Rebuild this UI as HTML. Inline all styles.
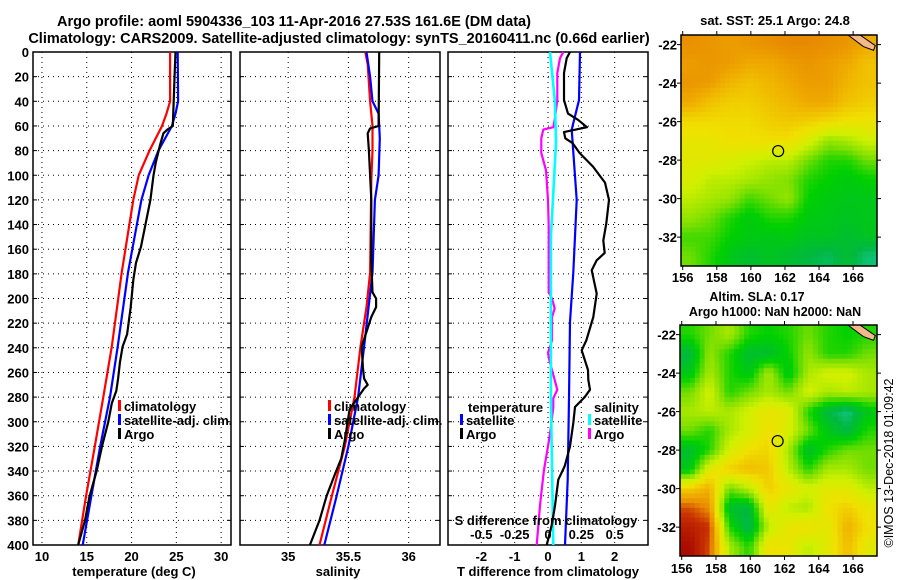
<!DOCTYPE html>
<html><head><meta charset="utf-8"><style>
body{margin:0;background:#fff;}
svg{display:block;font-family:"Liberation Sans",Arial,sans-serif;}
.b{font-weight:bold;font-size:13px;fill:#000;}
.h{font-weight:bold;font-size:14.5px;fill:#000;}
.t{font-weight:bold;font-size:12.5px;fill:#000;}
.g{stroke:#000;stroke-width:1;stroke-dasharray:1,4;fill:none;}
</style></head><body>
<svg id="c" width="900" height="580" viewBox="0 0 900 580" xmlns="http://www.w3.org/2000/svg">
<text class="h" x="294" y="26" text-anchor="middle">Argo profile: aoml 5904336_103 11-Apr-2016 27.53S 161.6E (DM data)</text>
<text class="h" x="339" y="43" text-anchor="middle">Climatology: CARS2009. Satellite-adjusted climatology: synTS_20160411.nc (0.66d earlier)</text>
<text class="b" x="775" y="25" text-anchor="middle">sat. SST: 25.1 Argo: 24.8</text>
<text class="t" x="757" y="301" text-anchor="middle">Altim. SLA: 0.17</text>
<text class="t" x="775" y="316" text-anchor="middle">Argo h1000: NaN h2000: NaN</text>
<text x="893" y="463" font-size="12.5" text-anchor="middle" transform="rotate(-90 893 463)">©IMOS 13-Dec-2018 01:09:42</text>
</svg>
<script>
// ---------- data ----------
const depthTicks=[0,20,40,60,80,100,120,140,160,180,200,220,240,260,280,300,320,340,360,380,400];
const tTicks=[10,15,20,25,30];
const sTicks=[35,35.5,36];
const dTicks=[-2,-1,0,1,2];
const sdTickLabels=["-0.5","-0.25","0","0.25","0.5"];
const sdTickValues=[-0.5,-0.25,0,0.25,0.5];
// temperature profiles (depth, value)
const tClimD=[0,40,50,60,80,100,120,179,239,280,320,361,400];
const tClimV=[24.3,24.3,23.9,23.4,22.0,20.8,20.2,18.9,17.8,16.85,15.9,14.9,14.05];
const tSatD=[0,40,50,60,80,100,120,179,239,280,320,361,400];
const tSatV=[25.15,25.2,24.9,24.5,23.0,21.9,21.1,19.6,18.45,17.6,16.5,15.5,14.55];
const tArgoD=[0,10,60,63,66,75,90,100,120,158,171,185,207,229,239,252,265,275,285,300,320,340,361,380,400];
const tArgoV=[24.9,24.85,24.6,24.0,23.55,23.2,22.7,22.45,22.1,21.06,20.5,20.2,19.9,19.5,19.0,18.7,18.5,18.3,17.8,17.4,16.7,16.1,15.3,14.8,14.05];
// salinity profiles
const sClimD=[0,10,40,60,80,104,179,207,239,280,320,361,400];
const sClimV=[35.64,35.66,35.68,35.70,35.70,35.69,35.68,35.65,35.60,35.55,35.47,35.36,35.26];
const sSatD=[0,20,40,50,70,100,120,179,239,280,320,361,400];
const sSatV=[35.65,35.68,35.70,35.75,35.76,35.75,35.72,35.70,35.63,35.58,35.50,35.40,35.30];
const sArgoD=[0,60,62,66,80,100,120,170,195,200,207,215,239,256,265,270,273,280,290,315,330,342,360,380,400];
const sArgoV=[35.755,35.75,35.68,35.66,35.67,35.68,35.69,35.69,35.70,35.73,35.73,35.69,35.61,35.62,35.63,35.66,35.63,35.58,35.51,35.47,35.44,35.39,35.32,35.26,35.18];
// differences from climatology
const dTSatD=[0,39,63,120,179,219,281,347,400];
const dTSatV=[0.96,0.93,0.71,0.86,0.76,0.66,0.63,0.59,0.51];
const dTArgoD=[0,5,17,39,50,55,61,65,70,74,82,93,106,120,139,153,163,169,177,196,215,234,242,258,266,274,280,288,301,320,336,347,368,384,400];
const dTArgoV=[0.66,0.56,0.48,0.48,0.6,0.9,1.17,0.48,0.52,0.74,0.95,1.35,1.71,1.83,1.75,1.66,1.7,1.46,1.31,1.46,1.36,1.15,1.01,1.2,1.21,1.26,1.1,0.81,0.76,0.66,0.5,0.31,0.21,0.11,-0.04];
const dSSatD=[0,40,74,150,280,400];
const dSSatV=[0.015,0.052,0.06,0.022,0.022,0.04];
const dSArgoD=[0,5,17,39,55,61,63,70,82,96,120,141,195,200,208,215,234,244,250,258,274,281,288,306,320,339,358,368,400];
const dSArgoV=[0.115,0.09,0.07,0.07,0.05,0.04,-0.035,-0.05,-0.05,-0.015,0,0.005,0.005,0.03,0.05,0.03,0.03,0,0.01,0.03,0.07,0.04,0.04,0.02,0.0,-0.03,-0.05,-0.06,-0.085];
// map grids (rows north->south, cols west->east), normalized colour index
const sstGrid=[
[0.85,0.84,0.83,0.84,0.85,0.86,0.86,0.85,0.84,0.81],
[0.83,0.84,0.83,0.81,0.81,0.83,0.84,0.83,0.81,0.77],
[0.84,0.83,0.79,0.77,0.79,0.81,0.83,0.83,0.79,0.77],
[0.81,0.77,0.75,0.75,0.77,0.79,0.81,0.81,0.77,0.75],
[0.73,0.73,0.73,0.73,0.75,0.76,0.75,0.73,0.71,0.71],
[0.70,0.70,0.72,0.72,0.72,0.72,0.66,0.58,0.60,0.64],
[0.68,0.68,0.66,0.64,0.62,0.62,0.55,0.50,0.50,0.55],
[0.66,0.62,0.62,0.60,0.58,0.56,0.50,0.48,0.46,0.48],
[0.62,0.60,0.58,0.52,0.55,0.58,0.48,0.46,0.45,0.45],
[0.58,0.55,0.50,0.46,0.50,0.50,0.46,0.45,0.44,0.45],
[0.52,0.52,0.48,0.46,0.45,0.46,0.44,0.44,0.42,0.44],
[0.55,0.50,0.45,0.42,0.44,0.42,0.40,0.38,0.42,0.36]];
const slaGrid=[
[0.50,0.55,0.60,0.50,0.48,0.50,0.55,0.50,0.48,0.50],
[0.40,0.58,0.50,0.42,0.42,0.48,0.58,0.50,0.50,0.55],
[0.45,0.60,0.50,0.45,0.60,0.45,0.60,0.65,0.65,0.60],
[0.55,0.65,0.50,0.55,0.60,0.55,0.65,0.60,0.62,0.60],
[0.60,0.62,0.60,0.65,0.70,0.68,0.50,0.40,0.35,0.45],
[0.55,0.50,0.60,0.65,0.72,0.66,0.55,0.45,0.40,0.50],
[0.42,0.50,0.65,0.72,0.74,0.60,0.42,0.50,0.55,0.55],
[0.45,0.68,0.75,0.78,0.76,0.62,0.50,0.60,0.60,0.55],
[0.75,0.80,0.55,0.62,0.75,0.70,0.65,0.68,0.68,0.62],
[0.90,0.85,0.42,0.40,0.70,0.62,0.60,0.72,0.75,0.70],
[0.95,0.92,0.50,0.38,0.62,0.70,0.72,0.68,0.80,0.72],
[0.98,0.90,0.60,0.50,0.72,0.70,0.62,0.68,0.78,0.68]];
const lonTicks=[156,158,160,162,164,166];
const latTicks=[-22,-24,-26,-28,-30,-32];
const argoLon=161.6, argoLat=-27.53;

// ---------- drawing ----------
const svg=document.getElementById('c');
const NS='http://www.w3.org/2000/svg';
function mk(tag,attrs,parent){const e=document.createElementNS(NS,tag);for(const k in attrs)e.setAttribute(k,attrs[k]);(parent||svg).appendChild(e);return e;}
const Y0=52,Y1=545;
const yD=d=>Y0+(Y1-Y0)*d/400;
function lin(d0,d1,r0,r1){return v=>r0+(v-d0)*(r1-r0)/(d1-d0);}
const xT=lin(9.0,31.1,33,231);
const xS=lin(34.60,36.26,240,440);
const xDT=lin(-3,3,448,648);
const xDS=v=>xDT(v*4);

function panel(name,x0,x1,xs,xticks){
  const g=mk('g',{});
  
  
  depthTicks.forEach(d=>{ if(d>0&&d<400){const l=mk('line',{x1:x0,x2:x1,y1:yD(d),y2:yD(d),class:'g'},g);
    mk('line',{x1:x0,x2:x0+4,y1:yD(d),y2:yD(d),stroke:'#000'},g);mk('line',{x1:x1-4,x2:x1,y1:yD(d),y2:yD(d),stroke:'#000'},g);}});
  xticks.forEach(v=>{const x=xs(v);const l=mk('line',{x1:x,x2:x,y1:Y0,y2:Y1,class:'g'},g);});
  const r=mk('rect',{x:x0,y:Y0,width:x1-x0,height:Y1-Y0,fill:'none',stroke:'#000','stroke-width':1.5},g);
  
  return g;
}
function line(g,D,V,xs,color,name,w){
  const p=D.map((d,i)=>xs(V[i]).toFixed(1)+','+yD(d).toFixed(1)).join(' ');
  const e=mk('polyline',{points:p,fill:'none',stroke:color,'stroke-width':w||2.2,'stroke-linejoin':'round'},g);
  
  
}
function txt(s,x,y,cls,anchor,name,parent){const t=mk('text',{x:x,y:y,class:cls,'text-anchor':anchor||'start'},parent);t.textContent=s;return t;}
function legend(x,y,color,label,g){const m=mk('rect',{x:x,y:y-6,width:3,height:11,fill:color},g);txt(label,x+6,y+5,'b','start','legend-entry-'+label.split(/[ .]/)[0],g);}

depthTicks.forEach(d=>txt(String(d),29,yD(d)+5,'b','end','y-tick-label'));

const p1=panel('temperature-panel',33,231,xT,tTicks);
line(p1,tClimD,tClimV,xT,'#ff0000','temp-climatology-line');
line(p1,tSatD,tSatV,xT,'#0000ff','temp-satellite-line');
line(p1,tArgoD,tArgoV,xT,'#000000','temp-argo-line');
tTicks.forEach(v=>txt(String(v),xT(v),561,'b','middle','temp-tick-label'));
txt('temperature (deg C)',134,576,'b','middle','temp-axis-title');
legend(118,406,'#ff0000','climatology',p1);legend(118,420,'#0000ff','satellite-adj. clim.',p1);legend(118,434,'#000','Argo',p1);

const p2=panel('salinity-panel',240,440,xS,sTicks);
line(p2,sClimD,sClimV,xS,'#ff0000','sal-climatology-line');
line(p2,sSatD,sSatV,xS,'#0000ff','sal-satellite-line');
line(p2,sArgoD,sArgoV,xS,'#000000','sal-argo-line');
sTicks.forEach(v=>txt(String(v),xS(v),561,'b','middle','sal-tick-label'));
txt('salinity',338,576,'b','middle','sal-axis-title');
legend(328,406,'#ff0000','climatology',p2);legend(328,420,'#0000ff','satellite-adj. clim.',p2);legend(328,434,'#000','Argo',p2);

const p3=panel('difference-panel',448,648,xDT,dTicks);
line(p3,dSArgoD,dSArgoV,xDS,'#ff00ff','sal-diff-argo-line');
line(p3,dSSatD,dSSatV,xDS,'#00ffff','sal-diff-satellite-line',2.6);
line(p3,dTSatD,dTSatV,xDT,'#0000ff','temp-diff-satellite-line');
line(p3,dTArgoD,dTArgoV,xDT,'#000000','temp-diff-argo-line');
dTicks.forEach(v=>txt(String(v),xDT(v),561,'b','middle','tdiff-tick-label'));
txt('T difference from climatology',548,576,'b','middle','tdiff-axis-title');
txt('S difference from climatology',546,525,'b','middle','sdiff-axis-title',p3);
sdTickValues.forEach((v,i)=>txt(sdTickLabels[i],xDS(v),539,'b','middle','sdiff-tick-label',p3));
txt('temperature',468,412,'b','start','legend-title-temperature',p3);
legend(460,420,'#0000ff','satellite',p3);legend(460,434,'#000','Argo',p3);
txt('salinity',594,412,'b','start','legend-title-salinity',p3);
legend(588,420,'#00ffff','satellite',p3);legend(588,434,'#ff00ff','Argo',p3);

// colormap
const stops=[[0.30,[32,208,192]],[0.40,[0,184,64]],[0.48,[0,208,0]],[0.56,[128,224,0]],[0.64,[208,240,0]],[0.72,[240,224,0]],[0.80,[240,176,0]],[0.86,[232,138,0]],[0.92,[200,48,0]],[1.0,[160,0,0]]];
function cmap(v){if(v<=stops[0][0])return 'rgb('+stops[0][1]+')';for(let i=1;i<stops.length;i++){if(v<=stops[i][0]){const a=stops[i-1],b=stops[i];const f=(v-a[0])/(b[0]-a[0]);return 'rgb('+a[1].map((c,k)=>Math.round(c+(b[1][k]-c)*f)).join(',')+')';}}return 'rgb('+stops[stops.length-1][1]+')';}
function sample(grid,fy,fx){
  const R=grid.length,C=grid[0].length;
  let y=Math.min(Math.max(fy-0.5,0),R-1),x=Math.min(Math.max(fx-0.5,0),C-1);
  const i0=Math.floor(y),j0=Math.floor(x),i1=Math.min(i0+1,R-1),j1=Math.min(j0+1,C-1),a=y-i0,b=x-j0;
  return grid[i0][j0]*(1-a)*(1-b)+grid[i0][j1]*(1-a)*b+grid[i1][j0]*a*(1-b)+grid[i1][j1]*a*b;
}

function map(name,grid,x0,y0,x1,y1,labelY){
  const g=mk('g',{});
  
  
  const lonL=155.9,lonR=167.4,latT=-21.5,latB=-33.5;
  const mx=lin(lonL,lonR,x0,x1),my=lin(latT,latB,y0,y1);
  const R=grid.length,C=grid[0].length,SUB=4;
  const NR=R*SUB,NC=C*SUB,cw=(x1-x0)/NC,ch=(y1-y0)/NR;
  for(let i=0;i<NR;i++)for(let j=0;j<NC;j++){
    const v=sample(grid,(i+0.5)/SUB,(j+0.5)/SUB);
    const r=mk('rect',{x:(x0+j*cw).toFixed(2),y:(y0+i*ch).toFixed(2),width:(cw+0.5).toFixed(2),height:(ch+0.5).toFixed(2),fill:cmap(v)},g);
    
    
  }
  const land=mk('path',{d:`M${mx(165.7)},${y0} L${mx(166.4)},${y0} L${mx(167.3)},${my(-22.05)} L${mx(167.2)},${my(-22.3)} L${mx(166.6)},${my(-22.1)} Z`,fill:'#f5b88a',stroke:'#000','stroke-width':1},g);
  
  const c=mk('circle',{cx:mx(argoLon),cy:my(argoLat),r:5.5,fill:'none',stroke:'#000','stroke-width':1.2},g);
  
  mk('rect',{x:x0,y:y0,width:x1-x0,height:y1-y0,fill:'none',stroke:'#000','stroke-width':1.5},g);
  lonTicks.forEach(v=>{const x=mx(v);mk('line',{x1:x,x2:x,y1:y1,y2:y1+4,stroke:'#000'},g);mk('line',{x1:x,x2:x,y1:y0,y2:y0-4,stroke:'#000'},g);txt(String(v),x,labelY,'b','middle','lon-tick-label',g);});
  latTicks.forEach(v=>{const y=my(v);mk('line',{x1:x0-4,x2:x0,y1:y,y2:y,stroke:'#000'},g);mk('line',{x1:x1,x2:x1+4,y1:y,y2:y,stroke:'#000'},g);txt(String(v),x0-4,y+5,'b','end','lat-tick-label',g);});
}
map('sst-map',sstGrid,681,35,877,266,282);
map('sla-map',slaGrid,680,325,877,556,573);
</script>
</body></html>
